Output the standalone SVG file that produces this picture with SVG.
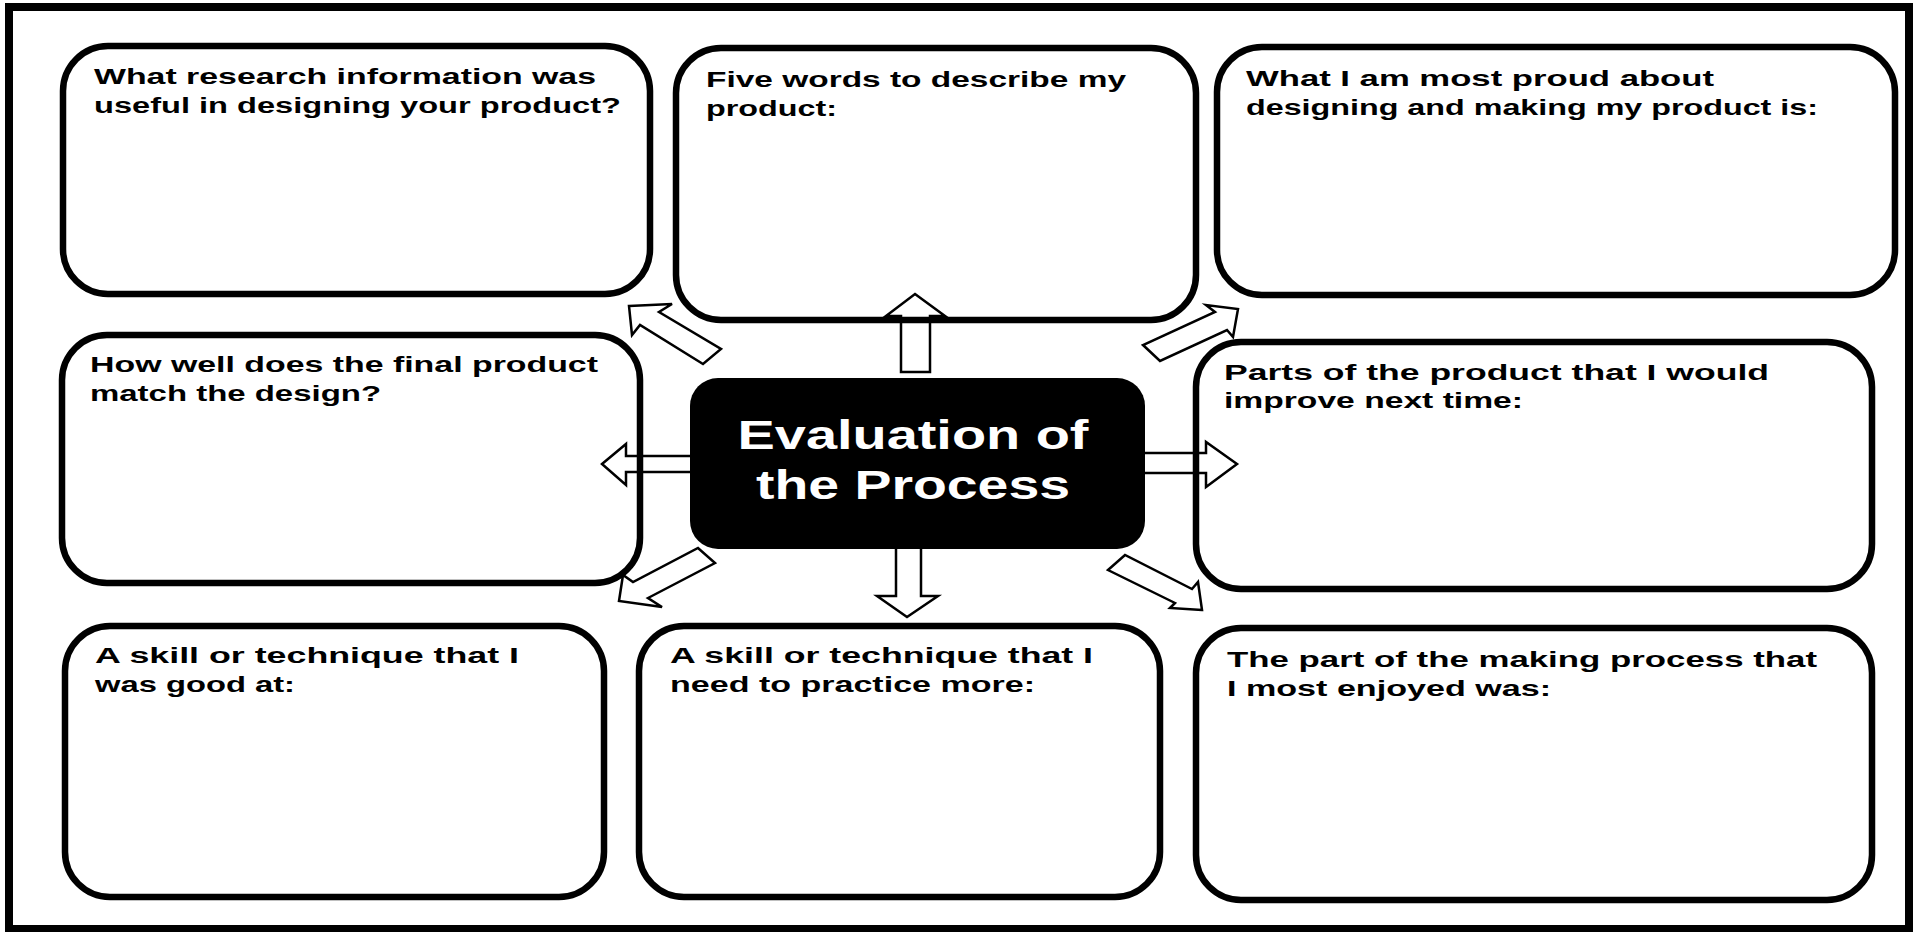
<svg xmlns="http://www.w3.org/2000/svg" width="1914" height="932" viewBox="0 0 1914 932">
<style>
.frame{fill:#fff;stroke:#000;stroke-width:8}
.box{fill:none;stroke:#000;stroke-width:6.5}
.center{fill:#000;stroke:none}
.arrow{fill:#fff;stroke:#000;stroke-width:2.5;stroke-linejoin:miter}
.q{font-family:"Liberation Sans","Noto Sans",sans-serif;font-weight:bold;font-size:22px;fill:#000}
.title{font-family:"Liberation Sans","Noto Sans",sans-serif;font-weight:bold;font-size:40px;fill:#fff}
</style>
<rect class="frame" x="9" y="7" width="1900" height="922"/>
<g id="connectors">
<polygon class="arrow" points="915,294 945,316 930,316 930,372 901,372 901,316 886,316"/>
<polygon class="arrow" points="896,540 896,596 877,596 907,617 938,596 921,596 921,540"/>
<polygon class="arrow" points="602,464 626,444 626,456 703,456 703,472 626,472 626,485"/>
<polygon class="arrow" points="1124,453 1206,453 1206,442 1237,464 1206,487 1206,473 1124,473"/>
<polygon class="arrow" points="629,306 672,304 659,312 721,349 703,364 640,325 632,335"/>
<polygon class="arrow" points="1238,309 1233,337 1227,330 1160,361 1143,345 1215,312 1206,305"/>
<polygon class="arrow" points="619,601 623,575 633,582 698,548 715,563 648,598 662,607"/>
<polygon class="arrow" points="1202,610 1170,608 1175,603 1108,570 1125,555 1192,589 1198,582"/>
</g>
<g id="node-research">
<rect class="box" x="63" y="46" width="587" height="248" rx="45" ry="45"/>
<text class="q" x="94" y="84" textLength="502" lengthAdjust="spacingAndGlyphs">What research information was</text>
<text class="q" x="94" y="113" textLength="527" lengthAdjust="spacingAndGlyphs">useful in designing your product?</text>
</g>
<g id="node-five-words">
<rect class="box" x="676" y="48" width="520" height="272" rx="45" ry="45"/>
<text class="q" x="706" y="87" textLength="420" lengthAdjust="spacingAndGlyphs">Five words to describe my</text>
<text class="q" x="706" y="116" textLength="131" lengthAdjust="spacingAndGlyphs">product:</text>
</g>
<g id="node-proud">
<rect class="box" x="1217" y="47" width="678" height="248" rx="45" ry="45"/>
<text class="q" x="1246" y="86" textLength="468" lengthAdjust="spacingAndGlyphs">What I am most proud about</text>
<text class="q" x="1246" y="115" textLength="572" lengthAdjust="spacingAndGlyphs">designing and making my product is:</text>
</g>
<g id="node-match">
<rect class="box" x="62" y="335" width="578" height="248" rx="45" ry="45"/>
<text class="q" x="90" y="372" textLength="508" lengthAdjust="spacingAndGlyphs">How well does the final product</text>
<text class="q" x="90" y="401" textLength="291" lengthAdjust="spacingAndGlyphs">match the design?</text>
</g>
<g id="node-center">
<rect class="center" x="690" y="378" width="455" height="171" rx="28" ry="28"/>
<text class="title" x="913" y="449" text-anchor="middle" textLength="351" lengthAdjust="spacingAndGlyphs">Evaluation of</text>
<text class="title" x="913" y="499" text-anchor="middle" textLength="314" lengthAdjust="spacingAndGlyphs">the Process</text>
</g>
<g id="node-improve">
<rect class="box" x="1196" y="342" width="676" height="247" rx="45" ry="45"/>
<text class="q" x="1224" y="380" textLength="545" lengthAdjust="spacingAndGlyphs">Parts of the product that I would</text>
<text class="q" x="1224" y="408" textLength="299" lengthAdjust="spacingAndGlyphs">improve next time:</text>
</g>
<g id="node-good-at">
<rect class="box" x="65" y="626" width="539" height="271" rx="45" ry="45"/>
<text class="q" x="95" y="663" textLength="424" lengthAdjust="spacingAndGlyphs">A skill or technique that I</text>
<text class="q" x="95" y="692" textLength="200" lengthAdjust="spacingAndGlyphs">was good at:</text>
</g>
<g id="node-practice">
<rect class="box" x="639" y="626" width="521" height="271" rx="45" ry="45"/>
<text class="q" x="670" y="663" textLength="423" lengthAdjust="spacingAndGlyphs">A skill or technique that I</text>
<text class="q" x="670" y="692" textLength="365" lengthAdjust="spacingAndGlyphs">need to practice more:</text>
</g>
<g id="node-enjoyed">
<rect class="box" x="1196" y="628" width="676" height="272" rx="45" ry="45"/>
<text class="q" x="1227" y="667" textLength="590" lengthAdjust="spacingAndGlyphs">The part of the making process that</text>
<text class="q" x="1227" y="696" textLength="324" lengthAdjust="spacingAndGlyphs">I most enjoyed was:</text>
</g>
</svg>
